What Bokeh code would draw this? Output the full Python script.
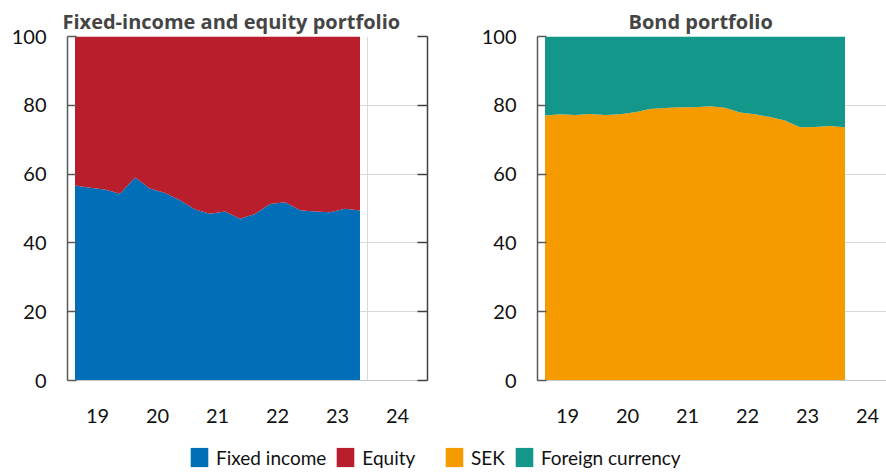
from bokeh.plotting import figure
from bokeh.models import (ColumnDataSource, Range1d, FixedTicker, LinearAxis,
                          Legend, LegendItem)
from bokeh.layouts import column, row
from bokeh.embed import file_html
from bokeh.resources import INLINE

# ---------------- data ----------------
quarters_left = ["2019Q1", "2019Q2", "2019Q3", "2019Q4", "2020Q1", "2020Q2", "2020Q3", "2020Q4",
                 "2021Q1", "2021Q2", "2021Q3", "2021Q4", "2022Q1", "2022Q2", "2022Q3", "2022Q4",
                 "2023Q1", "2023Q2", "2023Q3", "2023Q4"]
fixed_income = [56.7, 56.0, 55.5, 54.3, 59.0, 55.8, 54.5, 52.4, 49.7, 48.5,
                49.1, 47.0, 48.4, 51.3, 51.8, 49.5, 49.1, 48.9, 49.9, 49.4]

quarters_right = ["2019Q1", "2019Q2", "2019Q3", "2019Q4", "2020Q1", "2020Q2", "2020Q3", "2020Q4",
                  "2021Q1", "2021Q2", "2021Q3", "2021Q4", "2022Q1", "2022Q2", "2022Q3", "2022Q4",
                  "2023Q1", "2023Q2", "2023Q3", "2023Q4", "2024Q1"]
sek = [77.0, 77.4, 77.2, 77.5, 77.2, 77.4, 78.0, 78.9, 79.2, 79.4, 79.4,
       79.7, 79.3, 77.9, 77.4, 76.6, 75.6, 73.6, 73.7, 74.0, 73.6]

years = [2019, 2020, 2021, 2022, 2023, 2024]
year_labels = ["19", "20", "21", "22", "23", "24"]
y_ticks = [0, 20, 40, 60, 80, 100]

titles = ["Fixed-income and equity portfolio", "Bond portfolio"]
names_left = ["Fixed income", "Equity"]
names_right = ["SEK", "Foreign currency"]

BLUE, RED, ORANGE, TEAL = "#006fb8", "#b81e2c", "#f59b00", "#12978a"
FONT = "Lato"
TITLE_FONT = "Open Sans"


def qpos(q):
    return int(q[:4]) + (int(q[5]) - 1) / 4 + 0.125


src_l = ColumnDataSource(dict(
    x=[qpos(q) for q in quarters_left],
    a=fixed_income,
    b=[100 - v for v in fixed_income]))
src_r = ColumnDataSource(dict(
    x=[qpos(q) for q in quarters_right],
    a=sek,
    b=[100 - v for v in sek]))


def make_plot(width, x_end, border_left, border_right, src, colors, title, title_offset, right_axis):
    p = figure(width=width, height=430, x_range=Range1d(2019, x_end), y_range=Range1d(0, 100),
               output_backend="svg", toolbar_location=None,
               min_border_left=border_left, min_border_right=border_right,
               min_border_top=36, min_border_bottom=50)
    p.outline_line_color = None
    p.background_fill_color = "white"
    p.varea_stack(["a", "b"], x="x", source=src, color=colors)

    p.title.text = title
    p.title.align = "left"
    p.title.offset = title_offset
    p.title.standoff = 4
    p.title.text_font = TITLE_FONT
    p.title.text_font_style = "bold"
    p.title.text_font_size = "20px"
    p.title.text_color = "#454545"

    # x axis: labels at mid-year
    xa = p.xaxis[0]
    xa.ticker = FixedTicker(ticks=[y + 0.5 for y in years])
    xa.major_label_overrides = {y + 0.5: lab for y, lab in zip(years, year_labels)}
    xa.major_tick_line_color = None
    xa.minor_tick_line_color = None
    xa.axis_line_color = "#c8c8c8"
    xa.major_label_standoff = 22
    xa.major_label_text_font = FONT
    xa.major_label_text_font_size = "20px"
    xa.major_label_text_color = "#111111"

    ya = p.yaxis[0]
    ya.ticker = FixedTicker(ticks=y_ticks)
    ya.axis_line_color = "#595959"
    ya.axis_line_width = 1.5
    ya.major_tick_line_color = "#595959"
    ya.major_tick_line_width = 1.5
    ya.major_tick_in = 9
    ya.major_tick_out = 0
    ya.minor_tick_line_color = None
    ya.major_label_standoff = 21
    ya.major_label_text_font = FONT
    ya.major_label_text_font_size = "20px"
    ya.major_label_text_color = "#111111"

    p.ygrid.ticker = FixedTicker(ticks=y_ticks)
    p.ygrid.grid_line_color = "#d9d9d9"
    p.xgrid.ticker = FixedTicker(ticks=years + [2025])
    p.xgrid.grid_line_color = "#d9d9d9"

    if right_axis:
        ra = LinearAxis(ticker=FixedTicker(ticks=y_ticks))
        ra.axis_line_color = "#404040"
        ra.axis_line_width = 1.5
        ra.major_tick_line_color = "#404040"
        ra.major_tick_line_width = 1.5
        ra.major_tick_in = 10
        ra.major_tick_out = 0
        ra.minor_tick_line_color = None
        ra.major_label_text_color = None
        ra.major_label_standoff = 0
        p.add_layout(ra, "right")
    return p


p1 = make_plot(477, 2025, 67, 50, src_l, [BLUE, RED], titles[0], -5, True)
p2 = make_plot(409, 2019 + 349 / 60, 60, 0, src_r, [ORANGE, TEAL], titles[1], 91, False)

# ---------------- legend strip ----------------
leg = figure(width=886, height=42, x_range=Range1d(0, 1), y_range=Range1d(0, 1),
             output_backend="svg", toolbar_location=None,
             x_axis_type=None, y_axis_type=None, min_border=0)
leg.outline_line_color = None
leg.xgrid.visible = False
leg.ygrid.visible = False

# the same stacked series, drawn outside this strip's visible range, feed the legend swatches
r_left = leg.varea_stack(["a", "b"], x="x", source=src_l, color=[BLUE, RED])
r_right = leg.varea_stack(["a", "b"], x="x", source=src_r, color=[ORANGE, TEAL])


def legend_group(names, renderers, loc):
    items = [LegendItem(label=n, renderers=[r]) for n, r in zip(names, renderers)]
    lg = Legend(items=items, location=loc, orientation="horizontal",
                glyph_width=22, glyph_height=24, label_standoff=6, spacing=8,
                padding=0, margin=0, border_line_color=None, background_fill_alpha=0,
                label_text_font=FONT, label_text_font_size="19px",
                label_text_color="#111111")
    leg.add_layout(lg)


legend_group(names_left, r_left, (188, 3))
legend_group(names_right, r_right, (443, 3))

layout = column(row(p1, p2), leg)
open("out.html", "w").write(file_html(layout, INLINE))
